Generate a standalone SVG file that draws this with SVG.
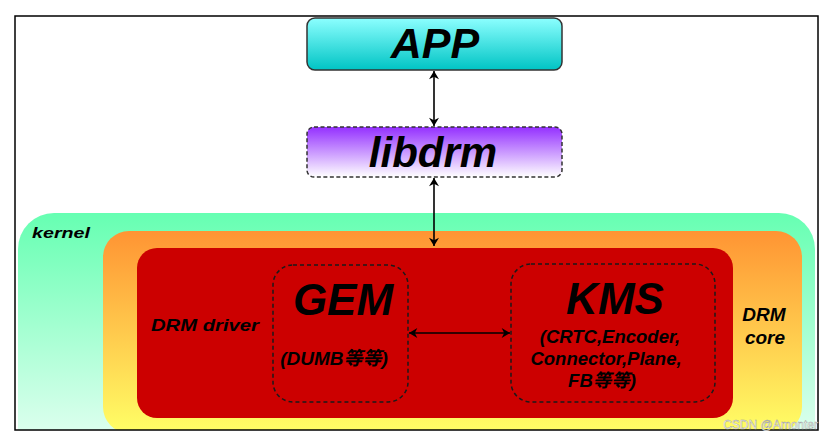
<svg xmlns="http://www.w3.org/2000/svg" width="836" height="441" viewBox="0 0 836 441">
<defs>
<linearGradient id="gApp" x1="0" y1="0" x2="0" y2="1"><stop offset="0" stop-color="#8cffff"/><stop offset="1" stop-color="#00c4c4"/></linearGradient>
<linearGradient id="gLib" x1="0" y1="0" x2="0" y2="1"><stop offset="0" stop-color="#9430ff"/><stop offset="1" stop-color="#ffffff"/></linearGradient>
<linearGradient id="gKer" x1="0" y1="0" x2="0" y2="1"><stop offset="0" stop-color="#66ffb2"/><stop offset="1" stop-color="#f2fff9"/></linearGradient>
<linearGradient id="gCore" x1="0" y1="0" x2="0" y2="1"><stop offset="0" stop-color="#ff9433"/><stop offset="1" stop-color="#ffff66"/></linearGradient>
<clipPath id="frame"><rect x="15" y="16" width="803" height="414"/></clipPath>
<marker id="ah" viewBox="0 0 10 12" refX="10" refY="6" markerWidth="11" markerHeight="10" markerUnits="userSpaceOnUse" orient="auto-start-reverse"><path d="M0,0 L10,6 L0,12 L3,6 z" fill="#000"/></marker>
</defs>
<style>
.t{font-family:"Liberation Sans",Arial,"Noto Sans CJK SC",sans-serif;font-weight:bold;font-style:italic;fill:#000;}
.dash{fill:none;stroke:#1a1a1a;stroke-width:1.5;stroke-dasharray:4 3;}
.conn{stroke:#000;stroke-width:1.6;fill:none;}
</style>
<rect x="0" y="0" width="836" height="441" fill="#fff"/>
<g clip-path="url(#frame)">
<g id="kernel">
<rect x="18" y="213" width="797" height="260" rx="36" fill="url(#gKer)"/>
<text class="t" x="32" y="238" font-size="15" textLength="58" lengthAdjust="spacingAndGlyphs">kernel</text>
</g>
<g id="drm-core">
<rect x="103" y="231" width="699" height="202" rx="26" fill="url(#gCore)"/>
<text class="t" x="764" y="321" font-size="19" text-anchor="middle" fill="#1a1000">DRM</text>
<text class="t" x="765" y="344" font-size="19" text-anchor="middle">core</text>
</g>
</g>
<g id="drm-driver">
<rect x="137" y="248" width="596" height="170" rx="20" fill="#cc0000"/>
<text class="t" x="151" y="331" font-size="17" textLength="108" lengthAdjust="spacingAndGlyphs" fill="#2a0000">DRM driver</text>
</g>
<g id="gem">
<rect class="dash" x="273" y="265" width="135" height="137" rx="20"/>
<text class="t" x="343" y="315" font-size="44" text-anchor="middle">GEM</text>
<text class="t" x="334" y="365" font-size="19" text-anchor="middle">(DUMB等等)</text>
</g>
<g id="kms">
<rect class="dash" x="511" y="264" width="204" height="138" rx="20"/>
<text class="t" x="615" y="314" font-size="44" text-anchor="middle">KMS</text>
<text class="t" x="610" y="343" font-size="18.5" text-anchor="middle">(CRTC,Encoder,</text>
<text class="t" x="606" y="365" font-size="18.5" text-anchor="middle">Connector,Plane,</text>
<text class="t" x="602" y="387" font-size="18.5" text-anchor="middle">FB等等)</text>
</g>
<g id="app">
<rect x="307" y="18" width="255" height="52" rx="8" fill="url(#gApp)" stroke="#333" stroke-width="1.5"/>
<text class="t" x="435" y="58" font-size="43" text-anchor="middle">APP</text>
</g>
<g id="libdrm">
<rect x="307" y="127" width="255" height="50" rx="7" fill="url(#gLib)" stroke="#333" stroke-width="1.5" stroke-dasharray="4 2.5"/>
<text class="t" x="433" y="167" font-size="42" text-anchor="middle">libdrm</text>
</g>
<g id="connectors">
<line class="conn" x1="434" y1="71" x2="434" y2="126" marker-start="url(#ah)" marker-end="url(#ah)"/>
<line class="conn" x1="434" y1="178" x2="434" y2="246" marker-start="url(#ah)" marker-end="url(#ah)"/>
<line class="conn" x1="409" y1="333" x2="510" y2="333" marker-start="url(#ah)" marker-end="url(#ah)"/>
</g>
<rect x="15" y="16" width="803" height="414" fill="none" stroke="#000" stroke-width="1.5"/>
<text x="818" y="429" font-family="'Liberation Sans',Arial,sans-serif" font-size="12" text-anchor="end" fill="#ffffff" stroke="#999" stroke-width="0.4">CSDN @Amonter</text>
</svg>
